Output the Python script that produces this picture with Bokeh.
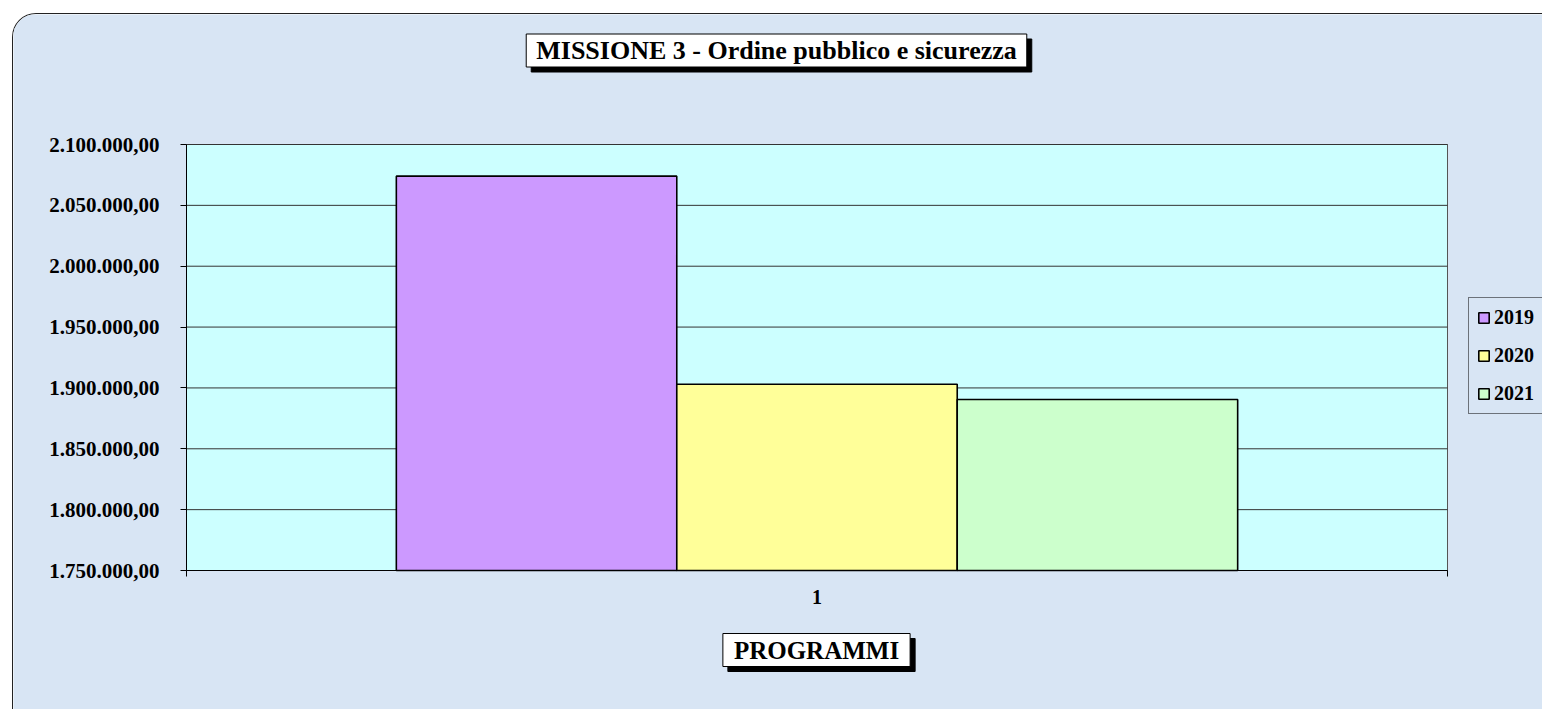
from bokeh.plotting import figure
from bokeh.models import (Range1d, FixedTicker, Label, Legend, LegendItem,
                          ColumnDataSource, BoxAnnotation)
from bokeh.transform import dodge
from bokeh.embed import file_html
from bokeh.resources import INLINE

# ---------------- data ----------------
categories = ["1"]
years = ["2019", "2020", "2021"]
values_2019 = [2074000]
values_2020 = [1903000]
values_2021 = [1890500]
bar_colors = ["#CC99FF", "#FFFF99", "#CCFFCC"]
y_ticks = [1750000, 1800000, 1850000, 1900000, 1950000, 2000000, 2050000, 2100000]
y_tick_labels = ["1.750.000,00", "1.800.000,00", "1.850.000,00", "1.900.000,00",
                 "1.950.000,00", "2.000.000,00", "2.050.000,00", "2.100.000,00"]
title_text = "MISSIONE 3 - Ordine pubblico e sicurezza"
x_title = "PROGRAMMI"

FONT = "Liberation Serif"

# ---------------- layout (page pixels) ----------------
ORIGIN_X, ORIGIN_Y = 13, 14          # top-left of canvas on the page
W, H = 1530, 696                     # canvas size
PLOT_L, PLOT_R, PLOT_T, PLOT_B = 186, 1447, 144, 570   # plot area on the page

cat_pos = list(range(len(categories)))
x_lo, x_hi = cat_pos[0] - 0.5, cat_pos[-1] + 0.5
y_lo, y_hi = y_ticks[0], y_ticks[-1]

sx = (PLOT_R - PLOT_L) / (x_hi - x_lo)
sy = (PLOT_B - PLOT_T) / (y_hi - y_lo)
x_range = Range1d(x_lo - (PLOT_L - ORIGIN_X) / sx, x_hi + (ORIGIN_X + W - PLOT_R) / sx)
y_range = Range1d(y_lo - (ORIGIN_Y + H - PLOT_B) / sy, y_hi + (PLOT_T - ORIGIN_Y) / sy)

source = ColumnDataSource(dict(x=cat_pos, y2019=values_2019,
                               y2020=values_2020, y2021=values_2021))

p = figure(x_range=x_range, y_range=y_range, width=W, height=H,
           output_backend="svg", toolbar_location=None,
           min_border_left=0, min_border_top=0,
           min_border_right=0, min_border_bottom=0)
p.margin = (ORIGIN_Y - 1, 0, 0, ORIGIN_X - 1)
p.styles = {"border-top": "1px solid #222", "border-left": "1px solid #222",
            "border-top-left-radius": "24px", "overflow": "hidden"}

p.background_fill_color = "#D8E5F4"
p.border_fill_color = "#D8E5F4"
p.outline_line_color = None
p.xgrid.visible = False
p.ygrid.visible = False

# plot area
area = BoxAnnotation(left=x_lo, right=x_hi, bottom=y_lo, top=y_hi,
                     fill_color="#CCFFFF", fill_alpha=1,
                     line_color="#555555", line_alpha=1, line_width=1,
                     level="underlay")
p.add_layout(area)

# horizontal grid lines at the y ticks
p.segment(x0=x_lo, x1=x_hi, y0=y_ticks, y1=y_ticks, line_color="#333333",
          line_width=1)

bw = 0.2224
offsets = [-bw, 0, bw]
cols = ["y2019", "y2020", "y2021"]
renderers = []
for off, col, c in zip(offsets, cols, bar_colors):
    r = p.vbar(x=dodge("x", off), top=col, bottom=y_lo,
               width=bw, source=source, fill_color=c, line_color="black",
               line_width=1.6)
    renderers.append(r)

# y axis
p.yaxis.fixed_location = x_lo
p.yaxis.bounds = (y_lo, y_hi)
p.yaxis.ticker = FixedTicker(ticks=y_ticks)
p.yaxis.major_label_overrides = {t: l for t, l in zip(y_ticks, y_tick_labels)}
p.yaxis.axis_line_color = "black"
p.yaxis.major_tick_line_color = "black"
p.yaxis.major_tick_out = 6
p.yaxis.major_tick_in = 0
p.yaxis.minor_tick_line_color = None
p.yaxis.major_label_standoff = 21
p.yaxis.major_label_text_font = FONT
p.yaxis.major_label_text_font_style = "bold"
p.yaxis.major_label_text_font_size = "21px"
p.yaxis.major_label_text_color = "black"

# x axis
p.xaxis.fixed_location = y_lo
p.xaxis.bounds = (x_lo, x_hi)
p.xaxis.ticker = FixedTicker(ticks=cat_pos, minor_ticks=[x_lo, x_hi])
p.xaxis.major_label_overrides = {t: l for t, l in zip(cat_pos, categories)}
p.xaxis.axis_line_color = "black"
p.xaxis.major_tick_line_color = None
p.xaxis.minor_tick_line_color = "black"
p.xaxis.minor_tick_out = 6
p.xaxis.minor_tick_in = 0
p.xaxis.major_label_standoff = 13
p.xaxis.major_label_text_font = FONT
p.xaxis.major_label_text_font_style = "bold"
p.xaxis.major_label_text_font_size = "20px"
p.xaxis.major_label_text_color = "black"

# legend
legend = Legend(items=[LegendItem(label=y, renderers=[r]) for y, r in zip(years, renderers)],
                location=(1468 - ORIGIN_X, ORIGIN_Y + H - 414), orientation="vertical")
legend.border_line_color = "black"
legend.border_line_width = 1
legend.background_fill_alpha = 0
legend.label_text_font = FONT
legend.label_text_font_style = "bold"
legend.label_text_font_size = "20px"
legend.label_text_color = "black"
legend.glyph_width = 13
legend.glyph_height = 13
legend.label_standoff = 4
legend.label_height = 20
legend.spacing = 15
legend.padding = 8
legend.margin = 0
p.add_layout(legend, "center")


def boxed(text, cx, cy, size, pad, shadow=5):
    x = cx - ORIGIN_X
    y = ORIGIN_Y + H - cy
    common = dict(x_units="screen", y_units="screen", text=text,
                  text_align="center", text_baseline="middle", text_font=FONT,
                  text_font_style="bold", text_font_size=size, padding=pad)
    p.add_layout(Label(x=x + shadow, y=y - shadow, text_color="black",
                       background_fill_color="black", border_line_color="black",
                       **common))
    p.add_layout(Label(x=x, y=y, text_color="black",
                       background_fill_color="white", border_line_color="black",
                       border_line_width=1, **common))


boxed(title_text, 776, 50, "26px", (10, 2))
boxed(x_title, 816, 649.5, "25px", (11, 3))

open("out.html", "w").write(file_html(p, INLINE))
